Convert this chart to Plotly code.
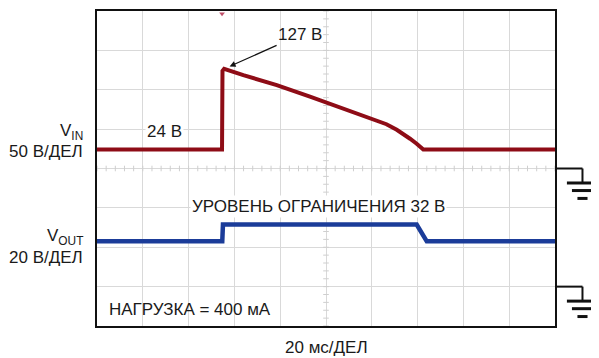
import numpy as np
import plotly.graph_objects as go

# scope settings
ms_per_div = 20
vin_scale = 50      # V/div
vout_scale = 20     # V/div
vin_gnd = 4         # ground level, divisions from bottom
vout_gnd = 1

# input voltage trace (ms, V)
vin_t = [0, 54.6, 54.8, 55.5, 63.9, 78.5, 93.0, 107.6, 114.8, 122.1, 126.4, 130.9,
         133.7, 136.7, 139.6, 142.5, 200]
vin_v = [24, 24, 124, 126.5, 118.6, 105.9, 91.2, 76.4, 69.3, 61.7, 56.2, 49.1,
         44.0, 37.8, 31.4, 24, 24]

# output voltage trace (ms, V)
vout_t = [0, 54.7, 55.0, 139.6, 144.0, 200]
vout_v = [23, 23, 31.5, 31.5, 23, 23]

FONT = "Liberation Sans, Arial, sans-serif"
dark_red = "#8e0c16"
dark_blue = "#1b3c99"


def to_div(v, gnd, scale):
    return [gnd + x / scale for x in v]


fig = go.Figure()

# small ticks along the centre lines
ticks_y = np.arange(0, 8.01, 0.2)
fig.add_trace(go.Scatter(x=[100] * len(ticks_y), y=ticks_y, mode="markers",
                         marker=dict(symbol="line-ew", size=4, line=dict(color="#cfcfcf", width=1)),
                         hoverinfo="skip"))
ticks_x = np.arange(0, 200.1, 4)
fig.add_trace(go.Scatter(x=ticks_x, y=[4] * len(ticks_x), mode="markers",
                         marker=dict(symbol="line-ns", size=4, line=dict(color="#cfcfcf", width=1)),
                         hoverinfo="skip"))

fig.add_trace(go.Scatter(x=vin_t, y=to_div(vin_v, vin_gnd, vin_scale), mode="lines",
                         line=dict(color=dark_red, width=4), hoverinfo="skip"))
fig.add_trace(go.Scatter(x=vout_t, y=to_div(vout_v, vout_gnd, vout_scale), mode="lines",
                         line=dict(color=dark_blue, width=4.5), hoverinfo="skip"))

# trigger marker on top edge
fig.add_trace(go.Scatter(x=[vin_t[1]], y=[7.93], mode="markers", cliponaxis=False,
                         marker=dict(symbol="triangle-down", size=5, color="#c0506a"),
                         hoverinfo="skip"))

axis_common = dict(showgrid=True, gridcolor="#d9d9d9", gridwidth=1, zeroline=False,
                   showticklabels=False, ticks="", showline=True, mirror=True,
                   linecolor="#111111", linewidth=2)
fig.update_xaxes(range=[0, 10 * ms_per_div], dtick=ms_per_div, **axis_common)
fig.update_yaxes(range=[0, 8], dtick=1, **axis_common)

txt = dict(family=FONT, size=17, color="#1a1a1a")
ann = [
    dict(x=55.5, y=vin_gnd + 126.5 / vin_scale, text="127 В", showarrow=True,
         ax=76, ay=-34, arrowhead=2, arrowsize=1, arrowwidth=1.2, arrowcolor="#111111",
         standoff=6, font=txt),
    dict(x=29.5, y=4.95, text="24 В", showarrow=False, bgcolor="white", font=txt),
    dict(x=-0.026, xref="paper", y=4.93, text="V<sub>IN</sub>", showarrow=False,
         xanchor="right", font=txt),
    dict(x=-0.026, xref="paper", y=4.44, text="50 В/ДЕЛ", showarrow=False,
         xanchor="right", font=txt),
    dict(x=-0.026, xref="paper", y=2.27, text="V<sub>OUT</sub>", showarrow=False,
         xanchor="right", font=txt),
    dict(x=-0.026, xref="paper", y=1.74, text="20 В/ДЕЛ", showarrow=False,
         xanchor="right", font=txt),
    dict(x=96.9, y=3.03, text="УРОВЕНЬ ОГРАНИЧЕНИЯ 32 В", showarrow=False,
         bgcolor="white", font=txt),
    dict(x=4.2, y=0.43, text="НАГРУЗКА = 400 мА", showarrow=False, xanchor="left", font=txt),
    dict(x=0.5, xref="paper", y=-0.069, yref="paper", text="20 мс/ДЕЛ", showarrow=False,
         xanchor="center", yanchor="middle", font=txt),
]

# ground symbols on the right side
shapes = []
for g in (vin_gnd, vout_gnd):
    yp = g / 8
    shapes += [
        dict(type="line", xref="paper", yref="paper", x0=1.0, x1=1.060, y0=yp, y1=yp,
             line=dict(color="#111111", width=2)),
        dict(type="line", xref="paper", yref="paper", x0=1.060, x1=1.060, y0=yp, y1=yp - 0.044,
             line=dict(color="#111111", width=2)),
        dict(type="line", xref="paper", yref="paper", x0=1.026, x1=1.093, y0=yp - 0.046,
             y1=yp - 0.046, line=dict(color="#111111", width=3)),
        dict(type="line", xref="paper", yref="paper", x0=1.037, x1=1.082, y0=yp - 0.070,
             y1=yp - 0.070, line=dict(color="#111111", width=3)),
        dict(type="line", xref="paper", yref="paper", x0=1.049, x1=1.071, y0=yp - 0.095,
             y1=yp - 0.095, line=dict(color="#111111", width=3)),
    ]

# the page sits 8 px in from the window corner, margins allow for that
fig.update_layout(width=599, height=358, margin=dict(l=89, r=52, t=1, b=40),
                  plot_bgcolor="white", paper_bgcolor="white", showlegend=False,
                  annotations=ann, shapes=shapes, font=txt)

fig.write_html("out.html")
